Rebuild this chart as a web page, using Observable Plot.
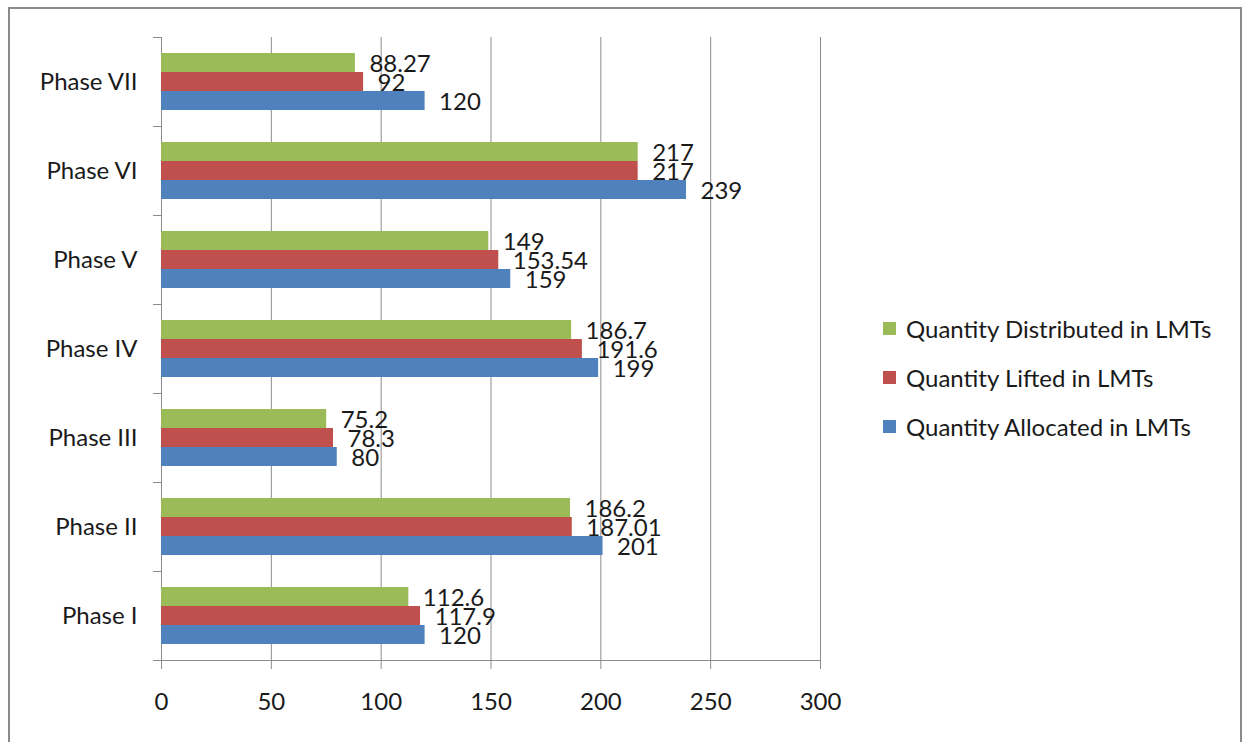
<!DOCTYPE html>
<html>
<head>
<meta charset="utf-8">
<script src="https://cdn.jsdelivr.net/npm/d3@7"></script>
<script src="https://cdn.jsdelivr.net/npm/@observablehq/plot@0.6"></script>
<style>
  html, body { margin: 0; padding: 0; background: #fff; overflow: hidden; }
  #wrap { position: relative; width: 1243px; height: 742px; font-family: Lato, "Open Sans", sans-serif; }
  #border { position: absolute; left: 8px; top: 7px; width: 1234px; height: 780px; border: 2px solid #8a8a8a; box-sizing: border-box; }
  #chart { position: absolute; left: 0; top: 0; }
  #legend { position: absolute; left: 883px; top: 304px; font-size: 24px; color: #1a1a1a; }
  #legend .row { height: 49px; line-height: 49px; white-space: nowrap; display: flex; align-items: center; }
  #legend .sw { width: 13px; height: 13px; margin-right: 10px; flex: none; }
</style>
</head>
<body>
<div id="wrap">
  <div id="border"></div>
  <div id="chart"></div>
  <div id="legend"></div>
</div>
<script>
const phases = ["Phase I", "Phase II", "Phase III", "Phase IV", "Phase V", "Phase VI", "Phase VII"];
const allocated = [120, 201, 80, 199, 159, 239, 120];
const lifted = [117.9, 187.01, 78.3, 191.6, 153.54, 217, 92];
const distributed = [112.6, 186.2, 75.2, 186.7, 149, 217, 88.27];
const seriesNames = ["Quantity Distributed in LMTs", "Quantity Lifted in LMTs", "Quantity Allocated in LMTs"];
const seriesColors = ["#9BBB59", "#C0504D", "#4F81BD"];
const xTicks = [0, 50, 100, 150, 200, 250, 300];

const seriesValues = [distributed, lifted, allocated];
const data = [];
phases.forEach((p, i) => {
  seriesNames.forEach((s, j) => {
    data.push({phase: p, series: s, value: seriesValues[j][i]});
  });
});

const W = 1243, H = 742;
const mTop = 37, mBottom = 82, mLeft = 161, mRight = 423;
const step = (H - mTop - mBottom) / phases.length;
const gridColor = "#8c8c8c";
const textColor = "#1a1a1a";
const fs = 24;

const chart = Plot.plot({
  width: W,
  height: H,
  marginTop: mTop,
  marginBottom: mBottom,
  marginLeft: mLeft,
  marginRight: mRight,
  style: {fontFamily: "Lato, 'Open Sans', sans-serif", fontSize: fs + "px", background: "transparent", color: textColor},
  x: {domain: [0, 300], axis: null},
  y: {domain: seriesNames, paddingInner: 0, paddingOuter: 0.782, axis: null},
  fy: {domain: phases.slice().reverse(), padding: 0, axis: null},
  color: {domain: seriesNames, range: seriesColors},
  marks: [
    Plot.ruleX(xTicks, {stroke: gridColor, strokeWidth: 1}),
    Plot.barX(data, {fy: "phase", y: "series", x: "value", fill: "series"}),
    Plot.text(data, {fy: "phase", y: "series", x: "value", text: d => String(d.value), textAnchor: "start", dx: 14, dy: 1, fill: textColor, fontSize: fs}),
    Plot.frame({anchor: "bottom", facetAnchor: "bottom", stroke: gridColor}),
    Plot.axisX({ticks: xTicks, tickSize: 9, tickPadding: 23, stroke: gridColor, color: textColor, fontSize: fs, label: null}),
    Plot.axisFy({anchor: "left", tickSize: 0, tickPadding: 24, fontSize: fs, color: textColor, label: null}),
    Plot.axisFy({anchor: "left", tickSize: 8, tickFormat: () => "", dy: -step / 2, stroke: gridColor, label: null}),
    Plot.axisFy({anchor: "left", tickSize: 8, tickFormat: () => "", dy: step / 2, stroke: gridColor, label: null})
  ]
});
document.getElementById("chart").appendChild(chart);

const legend = document.getElementById("legend");
seriesNames.forEach((s, j) => {
  const row = document.createElement("div");
  row.className = "row";
  const sw = document.createElement("span");
  sw.className = "sw";
  sw.style.background = seriesColors[j];
  const t = document.createElement("span");
  t.textContent = s;
  row.appendChild(sw);
  row.appendChild(t);
  legend.appendChild(row);
});
</script>
</body>
</html>
